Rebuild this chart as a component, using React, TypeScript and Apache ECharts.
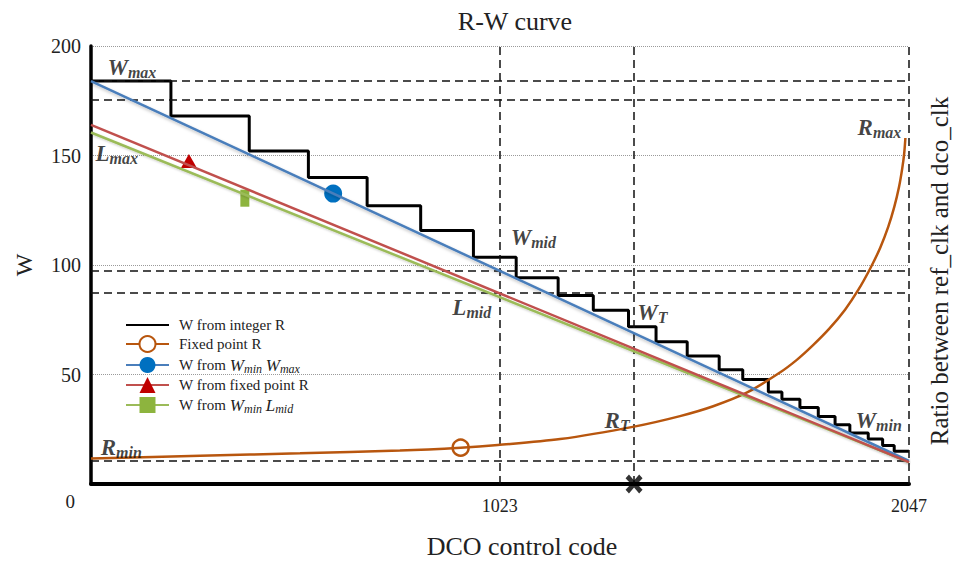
import React, { useEffect, useRef } from "react";
import * as echarts from "echarts";

// ---- data ----
const xTicks = [1023, 2047];
const yTicks = [0, 50, 100, 150, 200];

// staircase "W from integer R": step edges (DCO code) and W level of each step
const stepEdges = [0, 200, 396, 544, 691, 825, 957, 1064, 1169, 1257, 1345, 1414, 1492, 1572, 1631, 1695, 1729, 1774, 1820, 1862, 1899, 1945, 1981, 2010, 2047];
const stepLevels = [184, 168, 152, 140, 127, 115.7, 103.5, 94.2, 86.1, 79.3, 71.8, 65, 58.5, 52.2, 47.7, 42, 38.7, 34.9, 30.8, 27, 23.3, 20.6, 17.6, 14.9];

// straight lines (end points)
const lineCodes = [0, 2047];
const blueW = [184, 10.5];
const redW = [164, 10];
const greenW = [160.5, 10];

// ratio curve (right axis, same visual scale)
const ratioCodes = [0, 273, 523, 773, 925, 1018, 1174, 1359, 1474, 1557, 1642, 1724, 1767, 1807, 1847, 1887, 1920, 1950, 1975, 1995, 2010, 2022, 2030, 2035, 2038];
const ratioValues = [11.7, 12.9, 14.0, 15.3, 16.6, 17.8, 20.5, 26.2, 31.0, 35.5, 41.8, 50.9, 56.8, 63.4, 70.8, 79.6, 88.6, 98.4, 107.9, 117.4, 126.4, 135.6, 144, 151, 158];

// single markers
const fixedPointMarker = [925, 16.6];
const blueMarker = [606, 132.6];
const redMarker = [245, 147.5];
const greenMarker = [385, 130.5];
const crossMarker = [1359, 0];

// dashed guide levels
const hLevels = [184, 175.6, 97.5, 87.4, 10.4];
const vCodes = [1023, 1359, 2047];

// annotations: [main letter, subscript, code, W]
const annotations: [string, string, number, number][] = [
  ["W", "max", 40, 190],
  ["L", "max", 10, 150.8],
  ["W", "mid", 1049, 112.4],
  ["L", "mid", 903, 80.8],
  ["W", "T", 1366, 78.1],
  ["R", "T", 1284, 28.9],
  ["R", "min", 23, 16.7],
  ["R", "max", 1917, 163],
  ["W", "min", 1912, 28.9],
];

const legendNames = [
  "W from integer R",
  "Fixed point R",
  "W from Wmin Wmax",
  "W from fixed point R",
  "W from Wmin Lmid",
];
const legendRich: Record<string, string> = {
  "W from integer R": "W from integer R",
  "Fixed point R": "Fixed point R",
  "W from Wmin Wmax": "W from {i|W}{s|min} {i|W}{s|max}",
  "W from fixed point R": "W from fixed point R",
  "W from Wmin Lmid": "W from {i|W}{s|min} {i|L}{s|mid}",
};

const serif = "Liberation Serif";
const ORANGE = "#b8560e";
const BLUE = "#4a7ebb";
const RED = "#c0504d";
const GREEN = "#9bbb59";

const crossPath =
  "path://M0,2 L2,0 L5,3.2 L8,0 L10,2 L6.8,5 L10,8 L8,10 L5,6.8 L2,10 L0,8 L3.2,5 Z";

export default function App() {
  const ref = useRef<HTMLDivElement>(null);

  useEffect(() => {
    if (!ref.current) return;
    const chart = echarts.init(ref.current, undefined, { renderer: "svg" });

    const stepData = stepEdges.map((x, i) => [x, stepLevels[Math.min(i, stepLevels.length - 1)]]);
    const blueData = lineCodes.map((x, i) => [x, blueW[i]]);
    const redData = lineCodes.map((x, i) => [x, redW[i]]);
    const greenData = lineCodes.map((x, i) => [x, greenW[i]]);
    const ratioData = ratioCodes.map((x, i) => [x, ratioValues[i]]);
    const annData = annotations.map(([m, s, x, y]) => ({
      value: [x, y],
      name: `{m|${m}}{s|${s}}`,
    }));

    const option: any = {
      animation: false,
      backgroundColor: "#ffffff",
      textStyle: { fontFamily: serif },
      title: {
        text: "R-W curve",
        left: 510,
        top: 3,
        textAlign: "center",
        textStyle: { fontFamily: serif, fontSize: 26, fontWeight: "normal", color: "#222" },
      },
      grid: { left: 91, right: 51, top: 46, bottom: 75, containLabel: false },
      legend: {
        data: legendNames.map((n, i) => (i === 0 ? { name: n, itemStyle: { opacity: 0 } } : { name: n })),
        orient: "vertical",
        left: 120,
        top: 312,
        itemWidth: 43,
        itemHeight: 20,
        itemGap: 2,
        formatter: (n: string) => legendRich[n] || n,
        textStyle: {
          fontFamily: serif,
          fontSize: 15,
          color: "#222",
          padding: [0, 0, 0, 5],
          rich: {
            i: { fontFamily: serif, fontStyle: "italic", fontSize: 17, color: "#222", lineHeight: 18 },
            s: { fontFamily: serif, fontStyle: "italic", fontSize: 12, color: "#222", lineHeight: 12, padding: [8, 0, 0, 0] },
          },
        },
      },
      xAxis: {
        type: "value",
        min: 0,
        max: 2047,
        name: "DCO control code",
        nameLocation: "middle",
        nameGap: 49,
        nameTextStyle: { fontFamily: serif, fontSize: 26, color: "#222", padding: [0, 0, 0, 44] },
        axisLine: { show: true, onZero: false, lineStyle: { color: "#000", width: 4 } },
        axisTick: { show: false },
        splitLine: { show: false },
        axisLabel: {
          customValues: xTicks,
          margin: 13,
          fontFamily: serif,
          fontSize: 18,
          color: "#222",
          formatter: (v: number) => String(v),
        },
      },
      yAxis: [
        {
          type: "value",
          min: 0,
          max: 200,
          interval: 50,
          name: "W",
          nameLocation: "middle",
          nameGap: 55,
          nameRotate: 90,
          nameTextStyle: { fontFamily: serif, fontSize: 24, color: "#222" },
          axisLine: { show: true, lineStyle: { color: "#000", width: 3.5 } },
          axisTick: { show: false },
          splitLine: { show: true, lineStyle: { color: "#9a9a9a", type: "dotted", width: 1 } },
          axisLabel: {
            customValues: yTicks,
            margin: 10,
            fontFamily: serif,
            fontSize: 20,
            color: "#222",
            formatter: (v: number) => (v === 0 ? "{z|0}" : String(v)),
            rich: {
              z: { fontFamily: serif, fontSize: 19, color: "#222", padding: [34, 6, 0, 0] },
            },
          },
        },
        {
          type: "value",
          min: 0,
          max: 200,
          position: "right",
          name: "Ratio between ref_clk and dco_clk",
          nameLocation: "middle",
          nameRotate: 90,
          nameGap: 18,
          nameTextStyle: { fontFamily: serif, fontSize: 25, color: "#222", padding: [0, 12, 0, 0] },
          axisLine: { show: false },
          axisTick: { show: false },
          axisLabel: { show: false },
          splitLine: { show: false },
        },
      ],
      series: [
        {
          type: "line",
          name: "W from integer R",
          data: stepData,
          step: "end",
          symbol: "circle",
          showSymbol: false,
          lineStyle: { color: "#000", width: 3 },
          itemStyle: { color: "#000" },
          z: 4,
          markLine: {
            silent: true,
            symbol: "none",
            label: { show: false },
            lineStyle: { color: "#111", type: [8, 5], width: 1.5 },
            data: [
              ...hLevels.map((v) => ({ yAxis: v })),
              ...vCodes.map((v) => ({ xAxis: v })),
            ],
          },
        },
        {
          type: "line",
          name: "Fixed point R",
          yAxisIndex: 1,
          data: ratioData,
          smooth: 0.3,
          symbol: "emptyCircle",
          showSymbol: false,
          lineStyle: { color: ORANGE, width: 2.5 },
          itemStyle: { color: ORANGE, borderColor: ORANGE, borderWidth: 2.5 },
          z: 5,
          markPoint: {
            symbol: "circle",
            symbolSize: 16,
            label: { show: false },
            itemStyle: { color: "#fff", borderColor: ORANGE, borderWidth: 2.5 },
            data: [{ coord: fixedPointMarker }],
          },
        },
        {
          type: "line",
          name: "W from Wmin Wmax",
          data: blueData,
          symbol: "circle",
          showSymbol: false,
          lineStyle: { color: BLUE, width: 2.5, shadowColor: "rgba(0,0,0,0.25)", shadowBlur: 3, shadowOffsetY: 1.5 },
          itemStyle: { color: "#0070c0" },
          z: 6,
          markPoint: {
            symbol: "circle",
            symbolSize: 18,
            label: { show: false },
            itemStyle: { color: "#0070c0" },
            data: [{ coord: blueMarker }],
          },
        },
        {
          type: "line",
          name: "W from fixed point R",
          data: redData,
          symbol: "triangle",
          showSymbol: false,
          lineStyle: { color: RED, width: 2.5 },
          itemStyle: { color: "#c00000" },
          z: 6,
          markPoint: {
            symbol: "triangle",
            symbolSize: [16, 14],
            label: { show: false },
            itemStyle: { color: "#c00000" },
            data: [{ coord: redMarker }],
          },
        },
        {
          type: "line",
          name: "W from Wmin Lmid",
          data: greenData,
          symbol: "rect",
          showSymbol: false,
          lineStyle: { color: GREEN, width: 2.5, shadowColor: "rgba(0,0,0,0.2)", shadowBlur: 2, shadowOffsetY: 1 },
          itemStyle: { color: "#8db43e" },
          z: 5,
          markPoint: {
            symbol: "rect",
            symbolSize: [9, 17],
            label: { show: false },
            itemStyle: { color: "#8db43e" },
            data: [{ coord: greenMarker }],
          },
        },
        {
          type: "scatter",
          name: "cross",
          data: [crossMarker],
          symbol: crossPath,
          symbolSize: [17, 19],
          clip: false,
          silent: true,
          itemStyle: { color: "#000" },
          z: 10,
        },
        {
          type: "scatter",
          name: "annotations",
          data: annData,
          symbolSize: 1,
          silent: true,
          clip: false,
          itemStyle: { color: "rgba(0,0,0,0)" },
          z: 10,
          label: {
            show: true,
            position: "right",
            distance: 0,
            formatter: (p: any) => p.name,
            rich: {
              m: { fontFamily: serif, fontStyle: "italic", fontWeight: "bold", fontSize: 23, color: "#111", lineHeight: 22 },
              s: { fontFamily: serif, fontStyle: "italic", fontWeight: "bold", fontSize: 16, color: "#111", lineHeight: 15, padding: [10, 0, 0, 0] },
            },
          },
        },
      ],
    };

    chart.setOption(option);
    return () => chart.dispose();
  }, []);

  return <div ref={ref} style={{ width: 960, height: 564, position: "absolute", left: 0, top: 0 }} />;
}
